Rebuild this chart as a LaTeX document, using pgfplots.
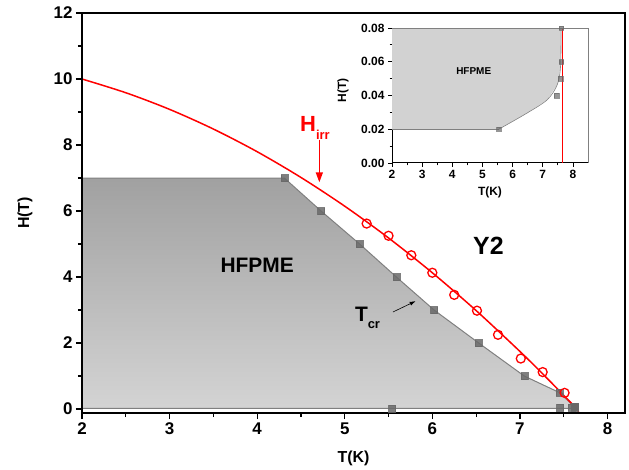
\documentclass[border=0pt]{standalone}
\usepackage{fontspec}
\setmainfont{Liberation Sans}
\usepackage{pgfplots}
\pgfplotsset{compat=1.18}
\usetikzlibrary{arrows.meta}
\definecolor{fillgray}{RGB}{210,210,210}
\definecolor{edgegray}{RGB}{128,128,128}
\definecolor{markgray}{RGB}{105,105,105}
\begin{document}
\begin{tikzpicture}
\path[use as bounding box] (-82bp,-57bp) rectangle (547bp,413bp);
% main panel
\begin{axis}[
	at={(0bp,0bp)}, anchor=south west,
	scale only axis, width=543bp, height=400bp,
	xmin=2, xmax=8.2, ymin=-0.12, ymax=12,
	xtick={2,...,8}, ytick={0,2,...,12},
	minor x tick num=1, minor y tick num=1,
	xtick pos=bottom, ytick pos=left,
	tick align=outside,
	major tick length=6bp, minor tick length=4bp,
	axis line style={line width=1.6bp},
	every tick/.style={black, line width=1.2bp},
	/pgf/number format/assume math mode=true,
	tick label style={font=\fontsize{17}{19}\selectfont\bfseries},
	label style={font=\fontsize{16}{18}\selectfont\bfseries},
	xlabel={T(K)}, ylabel={H(T)},
	xlabel style={at={(axis description cs:0.5,-0.1125)}, anchor=center},
	ylabel style={at={(axis description cs:-0.105,0.5)}, anchor=center},
	axis on top,
]
% region below T_cr
\addplot[draw=edgegray, line width=1bp, top color=black!37, middle color=black!22, bottom color=black!17]
coordinates {
	(2,0.02) (2,7) (4.31,7) (4.73,6) (5.17,5) (5.59,4) (6.02,3)
	(6.53,2) (7.05,1) (7.45,0.5) (7.63,0.05) (7.63,0.02) (2,0.02)
};
% H_irr curve
\addplot[red, line width=1.5bp, smooth] coordinates {
	(2,10.0) (2.5,9.584) (3,9.080) (3.5,8.484) (4,7.797) (4.5,7.017)
	(5,6.146) (5.5,5.184) (6,4.129) (6.5,2.984) (7,1.746) (7.25,1.093)
	(7.5,0.417) (7.65,0) (7.67,-0.12)
};
% T_cr points
\addplot[only marks, mark=square*, mark size=3.5bp, markgray, opacity=0.85] coordinates {
	(4.31,7) (4.73,6) (5.17,5) (5.59,4) (6.02,3) (6.53,2) (7.05,1) (7.45,0.5)
	(7.63,0.05) (5.54,0.02) (7.46,0.04) (7.59,0.05) (7.62,0.06) (7.62,0.08)
};
% H_irr points
\addplot[only marks, mark=o, red, mark size=4.5bp, line width=1.3bp] coordinates {
	(5.25,5.62) (5.50,5.25) (5.76,4.66) (6.00,4.13) (6.25,3.46)
	(6.51,2.98) (6.75,2.25) (7.01,1.53) (7.26,1.12) (7.51,0.49)
};
\node[font=\fontsize{21}{24}\selectfont\bfseries] at (axis cs:4.0,4.37) {HFPME};
\node[font=\fontsize{25}{28}\selectfont\bfseries] at (axis cs:6.64,4.96) {Y2};
\node[red, font=\fontsize{22}{24}\selectfont\bfseries] at (axis cs:4.66,8.52)
	{H\raisebox{-0.4em}{\fontsize{13}{14}\selectfont irr}};
\draw[red, line width=1.5bp, -{Triangle[length=10bp,width=7bp]}] (axis cs:4.71,8.16) -- (axis cs:4.71,6.87);
\node[font=\fontsize{21}{24}\selectfont\bfseries] at (axis cs:5.26,2.77)
	{T\raisebox{-0.35em}{\fontsize{13}{14}\selectfont cr}};
\draw[black, line width=0.6bp, -{Latex[length=6bp,width=4bp]}] (axis cs:5.55,2.94) -- (axis cs:5.81,3.27);
\end{axis}
% inset
\begin{axis}[
	at={(310bp,250bp)}, anchor=south west,
	scale only axis, width=196bp, height=135bp,
	xmin=2, xmax=8.5, ymin=0, ymax=0.08,
	xtick={2,...,8}, ytick={0,0.02,...,0.08},
	minor x tick num=1, minor y tick num=1,
	axis x line*=bottom, axis y line*=left,
	tick align=outside,
	major tick length=4bp, minor tick length=2.5bp,
	axis line style={line width=1bp},
	every tick/.style={black, line width=0.8bp},
	/pgf/number format/assume math mode=true,
	yticklabel style={/pgf/number format/fixed, /pgf/number format/fixed zerofill, /pgf/number format/precision=2},
	scaled y ticks=false,
	tick label style={font=\fontsize{12}{13}\selectfont\bfseries},
	label style={font=\fontsize{12}{13}\selectfont\bfseries},
	xlabel={T(K)}, ylabel={H(T)},
	xlabel style={at={(axis description cs:0.5,-0.215)}, anchor=center},
	ylabel style={at={(axis description cs:-0.25,0.54)}, anchor=center},
	clip=false,
]
\addplot[fill=fillgray, draw=none] coordinates {
	(2,0.02) (5.54,0.02) (6.48,0.0296) (7.15,0.0375) (7.48,0.0464)
	(7.59,0.0573) (7.61,0.08) (2,0.08) (2,0.02)
};
\addplot[edgegray, line width=0.6bp] coordinates {(2,0.02) (5.54,0.02)};
\addplot[edgegray, line width=0.6bp, smooth] coordinates {
	(5.54,0.02) (6.48,0.0296) (7.15,0.0375) (7.48,0.0464) (7.59,0.0573) (7.61,0.08)
};
\addplot[red, line width=1bp] coordinates {(7.65,0) (7.65,0.08)};
\addplot[only marks, mark=square*, mark size=2.2bp, markgray, opacity=0.7] coordinates {
	(5.54,0.02) (7.46,0.04) (7.59,0.05) (7.62,0.06) (7.62,0.08)
};
\draw[edgegray, line width=0.6bp] (rel axis cs:0,1) -- (rel axis cs:1,1) -- (rel axis cs:1,0);
\node[font=\fontsize{10}{12}\selectfont\bfseries] at (axis cs:4.71,0.0543) {HFPME};
\end{axis}
\end{tikzpicture}
\end{document}
